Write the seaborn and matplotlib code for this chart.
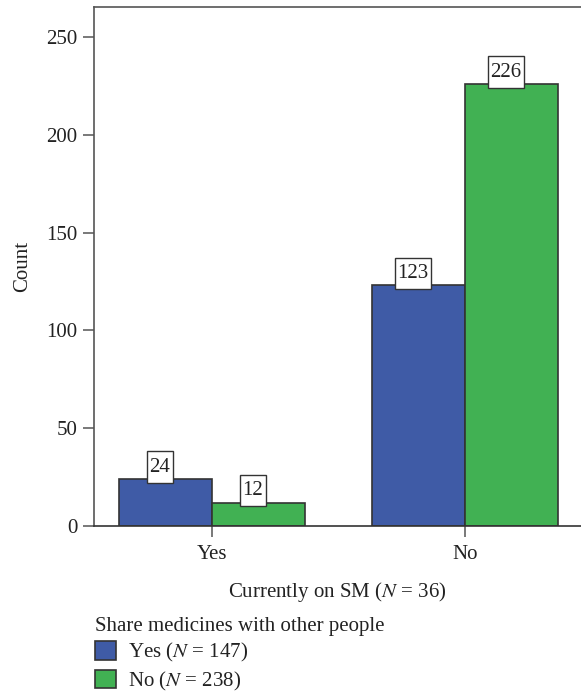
import matplotlib
matplotlib.use("Agg")
import matplotlib.pyplot as plt
import seaborn as sns
import pandas as pd
from matplotlib.patches import Patch
from matplotlib.path import Path

# Data
on_sm = ["Yes", "Yes", "No", "No"]
share = ["Yes", "No", "Yes", "No"]
counts = [24, 12, 123, 226]
categories = ["Yes", "No"]
hue_levels = ["Yes", "No"]
legend_labels = ["Yes ($N$ = 147)", "No ($N$ = 238)"]
colors = ["#3F5BA6", "#41B153"]

df = pd.DataFrame({"on_sm": on_sm, "share": share, "count": counts})

sns.set_theme(style="white")
plt.rcParams["font.family"] = ["Liberation Serif", "DejaVu Serif"]
plt.rcParams["mathtext.fontset"] = "stix"
FS = 15
ink = "#333333"


def label_box(x0, y0, width, height, mutation_size):
    padx = 0.12 * mutation_size
    pady = 0.30 * mutation_size
    x0, y0 = x0 - padx, y0 - pady
    x1, y1 = x0 + width + 2 * padx, y0 + height + 2 * pady
    return Path([(x0, y0), (x1, y0), (x1, y1), (x0, y1), (x0, y0)],
                closed=True)


fig = plt.figure(figsize=(5.81, 6.94), dpi=100)
ax = fig.add_axes([94 / 581, 1 - 526 / 694, 1 - 94 / 581, (526 - 7) / 694])

sns.barplot(data=df, x="on_sm", y="count", hue="share", order=categories,
            hue_order=hue_levels, palette=colors, width=0.735, saturation=1,
            edgecolor=ink, linewidth=1.2, ax=ax, legend=False)

ax.set_xlim(-0.466, 1.46)
ax.set_ylim(0, 265.3)
ax.set_yticks([0, 50, 100, 150, 200, 250])

for c in ax.containers:
    for bar in c:
        h = bar.get_height()
        ax.annotate(f"{int(h)}", (bar.get_x() + bar.get_width() / 2, h),
                    xytext=(-4, 8.5), textcoords="offset points",
                    ha="center", va="center", fontsize=FS, color="#222222",
                    bbox=dict(boxstyle=label_box, fc="white", ec=ink, lw=1.0))

for s in ["left", "top", "bottom"]:
    ax.spines[s].set_visible(True)
    ax.spines[s].set_color("#555555")
    ax.spines[s].set_linewidth(1.2)
ax.spines["right"].set_visible(False)
ax.spines["bottom"].set_color(ink)

ax.tick_params(axis="both", which="both", length=8, width=1.1, color="#555555",
               labelsize=FS, labelcolor="#222222", direction="out",
               left=True, bottom=True)
ax.tick_params(axis="x", pad=6)
ax.tick_params(axis="y", pad=4)
ax.set_ylabel("Count", fontsize=FS, color="#222222", labelpad=10)
ax.set_xlabel("Currently on SM ($N$ = 36)", fontsize=FS, color="#222222", labelpad=11)

handles = [Patch(facecolor=col, edgecolor=ink, linewidth=1.2) for col in colors]
fig.legend(handles, legend_labels, title="Share medicines with other people",
           loc="lower left", bbox_to_anchor=(91 / 581, -0.004), frameon=False,
           fontsize=FS, title_fontsize=FS, alignment="left",
           handlelength=1.0, handleheight=1.0, handletextpad=0.6,
           labelspacing=0.25, borderaxespad=0, borderpad=0.2)
for t in fig.legends[0].get_texts():
    t.set_color("#222222")
fig.legends[0].get_title().set_color("#222222")

fig.savefig("out.png", dpi=100)
